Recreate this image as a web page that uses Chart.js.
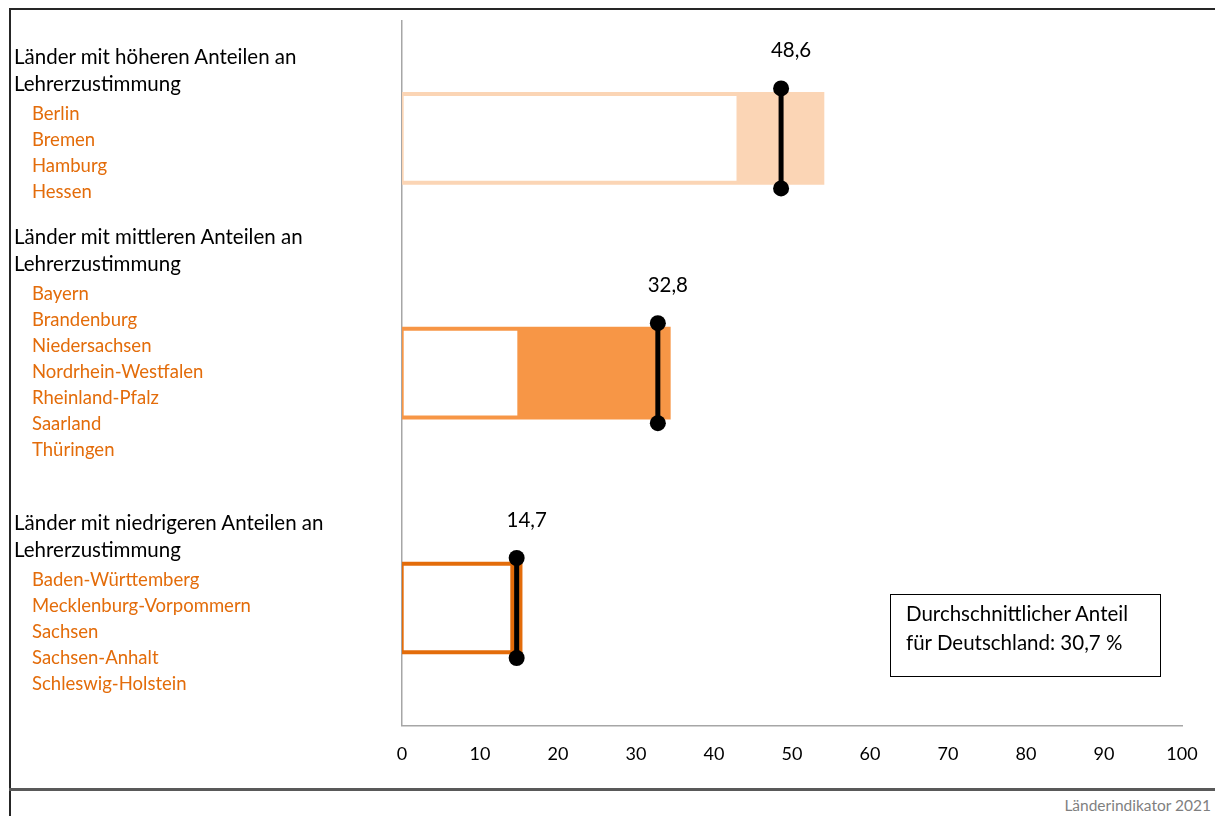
<!DOCTYPE html>
<html lang="de">
<head>
  <meta charset="UTF-8" />
  <title>Lehrerzustimmung nach Ländergruppen</title>
  <script src="https://cdn.jsdelivr.net/npm/chart.js"></script>
  <style>
    body {
      margin: 0;
      width: 1215px;
      height: 816px;
      position: relative;
      overflow: hidden;
      background: #fff;
      font-family: Lato, 'Open Sans', sans-serif;
      color: #000;
    }
    .frame {
      position: absolute;
      left: 9px;
      top: 8px;
      width: 1220px;
      height: 820px;
      border-top: 2px solid #262626;
      border-left: 2px solid #262626;
    }
    .bottomline {
      position: absolute;
      left: 9px;
      top: 788px;
      width: 1206px;
      border-top: 3px solid #595959;
    }
    .footer {
      position: absolute;
      right: 4px;
      top: 796px;
      font-size: 15.5px;
      color: #7f7f7f;
    }
    #wrap {
      position: absolute;
      left: 0;
      top: 0;
      width: 1215px;
      height: 786px;
    }
    .group {
      position: absolute;
      left: 14px;
    }
    .group .head {
      font-size: 20.5px;
      line-height: 27px;
      width: 340px;
    }
    .group .land {
      font-size: 18.5px;
      line-height: 26px;
      color: #e36c0a;
      padding-left: 18px;
    }
    .group .list {
      margin-top: 3px;
    }
    .note {
      position: absolute;
      left: 890px;
      top: 594px;
      width: 254px;
      height: 67px;
      border: 1px solid #000;
      padding: 4px 0 10px 15px;
      font-size: 20.5px;
      line-height: 29px;
    }
  </style>
</head>
<body>
  <div class="frame"></div>
  <div id="wrap"><canvas id="grafik"></canvas></div>
  <div id="gruppen"></div>
  <div class="note">Durchschnittlicher Anteil<br>für Deutschland: 30,7 %</div>
  <div class="bottomline"></div>
  <div class="footer">Länderindikator 2021</div>

  <script>
    // Ländergruppen
    const gruppen = [
      'Länder mit höheren Anteilen an Lehrerzustimmung',
      'Länder mit mittleren Anteilen an Lehrerzustimmung',
      'Länder mit niedrigeren Anteilen an Lehrerzustimmung'
    ];
    const laender = [
      ['Berlin', 'Bremen', 'Hamburg', 'Hessen'],
      ['Bayern', 'Brandenburg', 'Niedersachsen', 'Nordrhein-Westfalen', 'Rheinland-Pfalz', 'Saarland', 'Thüringen'],
      ['Baden-Württemberg', 'Mecklenburg-Vorpommern', 'Sachsen', 'Sachsen-Anhalt', 'Schleswig-Holstein']
    ];
    // Spannweite (min / max) und Mittelwert je Gruppe
    const minWerte = [43.1, 15.0, 14.1];
    const maxWerte = [54.1, 34.4, 15.4];
    const mittel = [48.6, 32.8, 14.7];
    const mittelLabels = ['48,6', '32,8', '14,7'];
    const farben = ['#fbd5b5', '#f79646', '#e36c0a'];

    // linke Beschriftung
    const gruppenTop = [43, 223, 509];
    const box = document.getElementById('gruppen');
    gruppen.forEach((g, i) => {
      const d = document.createElement('div');
      d.className = 'group';
      d.style.top = gruppenTop[i] + 'px';
      let html = '<div class="head">' + g + '</div><div class="list">';
      laender[i].forEach(l => { html += '<div class="land">' + l + '</div>'; });
      d.innerHTML = html + '</div>';
      box.appendChild(d);
    });

    const mittelPlugin = {
      id: 'mittel',
      afterDatasetsDraw(chart) {
        const ctx = chart.ctx;
        const x = chart.scales.x, y = chart.scales.y;
        ctx.save();
        mittel.forEach((m, i) => {
          const px = x.getPixelForValue(m);
          const cy = y.getPixelForValue(i);
          const oben = cy - 50, unten = cy + 50;
          ctx.strokeStyle = '#000';
          ctx.lineWidth = 5;
          ctx.beginPath();
          ctx.moveTo(px, oben);
          ctx.lineTo(px, unten);
          ctx.stroke();
          ctx.fillStyle = '#000';
          [oben, unten].forEach(py => {
            ctx.beginPath();
            ctx.arc(px, py, 8, 0, Math.PI * 2);
            ctx.fill();
          });
          ctx.font = '20.5px Lato';
          ctx.textAlign = 'center';
          ctx.textBaseline = 'middle';
          ctx.fillText(mittelLabels[i], px + 10, oben - 38);
        });
        ctx.restore();
      }
    };

    const ctx = document.getElementById('grafik').getContext('2d');
    new Chart(ctx, {
      type: 'bar',
      data: {
        labels: gruppen,
        datasets: [
          {
            label: 'Minimum',
            data: minWerte,
            backgroundColor: '#ffffff',
            borderColor: farben,
            borderWidth: 2,
            borderSkipped: false,
            barThickness: 88,
            grouped: false,
            order: 1
          },
          {
            label: 'Maximum',
            data: maxWerte,
            backgroundColor: farben,
            barThickness: 92,
            grouped: false,
            order: 2
          }
        ]
      },
      options: {
        indexAxis: 'y',
        responsive: true,
        maintainAspectRatio: false,
        animation: false,
        layout: { padding: { left: 394, top: 21, right: 33, bottom: 11 } },
        plugins: {
          legend: { display: false },
          tooltip: { enabled: false }
        },
        scales: {
          x: {
            min: 0,
            max: 100,
            grid: { display: false },
            border: { color: '#a6a6a6', width: 1.5 },
            ticks: {
              stepSize: 10,
              color: '#000',
              padding: 10,
              font: { family: 'Lato', size: 18 }
            }
          },
          y: {
            grid: { display: false },
            border: { color: '#a6a6a6', width: 1.5 },
            ticks: { display: false }
          }
        }
      },
      plugins: [mittelPlugin]
    });
  </script>
</body>
</html>
